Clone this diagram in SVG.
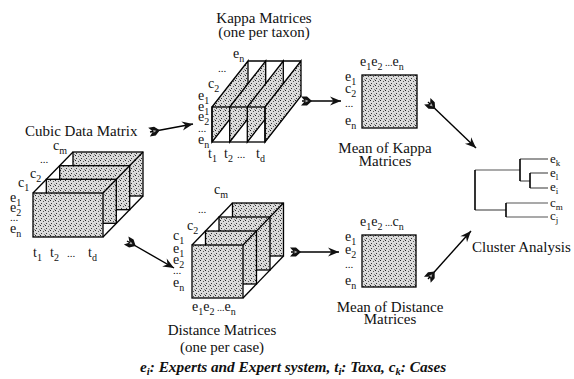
<svg xmlns="http://www.w3.org/2000/svg" width="574" height="379" viewBox="0 0 574 379">
<style>
.t{font-family:"Liberation Serif","Times New Roman",serif;font-size:15px;fill:#111}
.l{font-family:"Liberation Serif","Times New Roman",serif;font-size:14px;fill:#111}
.cl{font-family:"Liberation Serif","Times New Roman",serif;font-size:13px;fill:#111}
.s{font-size:10px}
.dt{font-size:11px}
.f{font-family:"Liberation Serif","Times New Roman",serif;font-size:15.3px;font-weight:bold;font-style:italic;fill:#111}
.face{fill:url(#st);stroke:#000;stroke-width:1.3;stroke-linejoin:miter}
.edge{stroke:#000;stroke-width:1.3;fill:none}
.ln{stroke:#000;stroke-width:1.4;fill:none}
.dv{stroke:#000;stroke-width:1.6}
.dh{stroke:#555;stroke-width:1.2}
</style>
<defs>
<pattern id="st" width="5" height="5" patternUnits="userSpaceOnUse">
<rect width="5" height="5" fill="#dadada"/>
<rect x="0" y="0" width="1" height="1" fill="#222"/>
<rect x="3" y="1" width="1" height="1" fill="#555"/>
<rect x="1" y="3" width="1" height="1" fill="#333"/>
<rect x="4" y="4" width="1" height="1" fill="#888"/>
</pattern>
<marker id="head" viewBox="-12 -6 14 12" markerWidth="14" markerHeight="12" refX="0" refY="0" orient="auto" markerUnits="userSpaceOnUse">
<path d="M0,0 L-11,-4.5 L-7.5,0 L-11,4.5 Z" fill="#111"/>
</marker>
<marker id="tail" viewBox="-2 -6 14 12" markerWidth="14" markerHeight="12" refX="0" refY="0" orient="auto" markerUnits="userSpaceOnUse">
<path d="M-1,-4.5 L5,-4.5 L10,0 L5,4.5 L-1,4.5 L3,0 Z" fill="#111"/>
<path d="M3.5,-1.5 L6.5,0 L3.5,1.5 Z" fill="#aaa"/>
</marker>
</defs>
<rect width="574" height="379" fill="#fff"/>

<g id="cubic-data-matrix">
<rect class="face" x="73" y="152" width="70" height="44"/>
<rect class="face" x="59.7" y="165.7" width="70" height="44"/>
<rect class="face" x="46.3" y="179.3" width="70" height="44"/>
<line class="edge" x1="33" y1="193" x2="73" y2="152"/>
<line class="edge" x1="103" y1="193" x2="143" y2="152"/>
<line class="edge" x1="103" y1="237" x2="143" y2="196"/>
<rect class="face" x="33" y="193" width="70" height="44"/>
<text class="t" x="25" y="136">Cubic Data Matrix</text>
<text class="l"><tspan x="53" y="150">c</tspan><tspan class="s" dy="4">m</tspan><tspan class="dt" x="40" y="163">...</tspan><tspan x="30" y="178">c</tspan><tspan class="s" dy="4">2</tspan><tspan x="18" y="187">c</tspan><tspan class="s" dy="4">1</tspan><tspan x="10" y="202">e</tspan><tspan class="s" dy="4">1</tspan><tspan x="10" y="212">e</tspan><tspan class="s" dy="4">2</tspan><tspan class="dt" x="10" y="221">...</tspan><tspan x="10" y="233">e</tspan><tspan class="s" dy="4">n</tspan></text>
<text class="l"><tspan x="33" y="257">t</tspan><tspan class="s" dy="4">1</tspan><tspan x="50" y="257">t</tspan><tspan class="s" dy="4">2</tspan><tspan class="dt" x="67" y="257">...</tspan><tspan x="88" y="257">t</tspan><tspan class="s" dy="4">d</tspan></text>
</g>

<g id="kappa-matrices">
<polygon class="face" points="212,107 248,61 248,96 212,142"/>
<polygon class="face" points="229.7,107 265.7,61 265.7,96 229.7,142"/>
<polygon class="face" points="247.3,107 283.3,61 283.3,96 247.3,142"/>
<polygon class="face" points="265,107 301,61 301,96 265,142"/>
<line class="edge" x1="248" y1="61" x2="301" y2="61"/>
<rect class="edge" x="212" y="107" width="53" height="35"/>
<text class="t" x="264" y="23" text-anchor="middle">Kappa Matrices</text>
<text class="t" x="264" y="37" text-anchor="middle">(one per taxon)</text>
<text class="l"><tspan x="233" y="58">e</tspan><tspan class="s" dy="4">n</tspan><tspan class="dt" x="218" y="72">...</tspan><tspan x="208" y="88">c</tspan><tspan class="s" dy="4">2</tspan><tspan x="198" y="100">e</tspan><tspan class="s" dy="4">1</tspan><tspan x="198" y="111">e</tspan><tspan class="s" dy="4">1</tspan><tspan x="198" y="121">e</tspan><tspan class="s" dy="4">2</tspan><tspan class="dt" x="198" y="132">...</tspan><tspan x="198" y="144">e</tspan><tspan class="s" dy="4">n</tspan></text>
<text class="l"><tspan x="208" y="158">t</tspan><tspan class="s" dy="4">1</tspan><tspan x="224" y="158">t</tspan><tspan class="s" dy="4">2</tspan><tspan class="dt" x="237" y="158">...</tspan><tspan x="256" y="158">t</tspan><tspan class="s" dy="4">d</tspan></text>
</g>

<g id="mean-kappa">
<rect class="face" x="362" y="75" width="55" height="53"/>
<text class="l" x="360" y="66">e<tspan class="s" dy="4">1</tspan><tspan dy="-4">e</tspan><tspan class="s" dy="4">2</tspan><tspan class="s" dy="-4"> ...</tspan>e<tspan class="s" dy="4">n</tspan></text>
<text class="l"><tspan x="345" y="81">e</tspan><tspan class="s" dy="4">1</tspan><tspan x="345" y="93">c</tspan><tspan class="s" dy="4">2</tspan><tspan class="dt" x="345" y="107">...</tspan><tspan x="345" y="125">e</tspan><tspan class="s" dy="4">n</tspan></text>
<text class="t" x="385" y="153" text-anchor="middle">Mean of Kappa</text>
<text class="t" x="385" y="166" text-anchor="middle">Matrices</text>
</g>

<g id="distance-matrices">
<rect class="face" x="232.5" y="203" width="51" height="53"/>
<rect class="face" x="219" y="217" width="51" height="53"/>
<rect class="face" x="205.5" y="231" width="51" height="53"/>
<line class="edge" x1="192" y1="245" x2="232.5" y2="203"/>
<line class="edge" x1="243" y1="245" x2="283.5" y2="203"/>
<line class="edge" x1="243" y1="298" x2="283.5" y2="256"/>
<rect class="face" x="192" y="245" width="51" height="53"/>
<text class="l"><tspan x="214" y="194">c</tspan><tspan class="s" dy="4">m</tspan><tspan class="dt" x="198" y="213">...</tspan><tspan x="187" y="230">c</tspan><tspan class="s" dy="4">2</tspan><tspan x="173" y="240">c</tspan><tspan class="s" dy="4">1</tspan><tspan x="173" y="253">e</tspan><tspan class="s" dy="4">1</tspan><tspan x="173" y="264">e</tspan><tspan class="s" dy="4">2</tspan><tspan class="dt" x="173" y="274">...</tspan><tspan x="173" y="287">e</tspan><tspan class="s" dy="4">n</tspan></text>
<text class="l" x="192" y="311">e<tspan class="s" dy="4">1</tspan><tspan dy="-4">e</tspan><tspan class="s" dy="4">2</tspan><tspan class="s" dy="-4"> ...</tspan>e<tspan class="s" dy="4">n</tspan></text>
<text class="t" x="222" y="335" text-anchor="middle">Distance Matrices</text>
<text class="t" x="222" y="352" text-anchor="middle">(one per case)</text>
</g>

<g id="mean-distance">
<rect class="face" x="362" y="235" width="54" height="52"/>
<text class="l" x="360" y="226">e<tspan class="s" dy="4">1</tspan><tspan dy="-4">e</tspan><tspan class="s" dy="4">2</tspan><tspan class="s" dy="-4"> ...</tspan>c<tspan class="s" dy="4">n</tspan></text>
<text class="l"><tspan x="345" y="241">e</tspan><tspan class="s" dy="4">1</tspan><tspan x="345" y="254">e</tspan><tspan class="s" dy="4">2</tspan><tspan class="dt" x="345" y="268">...</tspan><tspan x="345" y="285">e</tspan><tspan class="s" dy="4">n</tspan></text>
<text class="t" x="390" y="312" text-anchor="middle">Mean of Distance</text>
<text class="t" x="390" y="324" text-anchor="middle">Matrices</text>
</g>

<g id="cluster-analysis">
<line class="dh" x1="475" y1="170" x2="520" y2="170"/>
<line class="dh" x1="475" y1="210" x2="506" y2="210"/>
<line class="dh" x1="520" y1="159" x2="548" y2="159"/>
<line class="dh" x1="520" y1="181" x2="530" y2="181"/>
<line class="dh" x1="530" y1="173" x2="548" y2="173"/>
<line class="dh" x1="530" y1="188" x2="548" y2="188"/>
<line class="dh" x1="506" y1="203" x2="548" y2="203"/>
<line class="dh" x1="506" y1="217" x2="548" y2="217"/>
<line class="dv" x1="475" y1="170" x2="475" y2="210"/>
<line class="dv" x1="520" y1="159" x2="520" y2="181"/>
<line class="dv" x1="530" y1="173" x2="530" y2="188"/>
<line class="dv" x1="506" y1="203" x2="506" y2="217"/>
<text class="cl"><tspan x="550" y="163">e</tspan><tspan font-size="9" dy="3">k</tspan><tspan x="550" y="177">e</tspan><tspan font-size="9" dy="3">l</tspan><tspan x="550" y="191">e</tspan><tspan font-size="9" dy="3">i</tspan><tspan x="550" y="207">c</tspan><tspan font-size="9" dy="3">m</tspan><tspan x="550" y="220">c</tspan><tspan font-size="9" dy="3">j</tspan></text>
<text class="t" x="472" y="252">Cluster Analysis</text>
</g>

<g id="connectors">
<line class="ln" x1="150" y1="132" x2="193" y2="124" marker-start="url(#tail)" marker-end="url(#head)"/>
<line class="ln" x1="302" y1="101" x2="341" y2="101" marker-start="url(#tail)" marker-end="url(#head)"/>
<line class="ln" x1="127" y1="241" x2="174" y2="268" marker-start="url(#tail)" marker-end="url(#head)"/>
<line class="ln" x1="291" y1="252" x2="339" y2="252" marker-start="url(#tail)" marker-end="url(#head)"/>
<line class="ln" x1="428" y1="102" x2="476" y2="148" marker-start="url(#tail)" marker-end="url(#head)"/>
<line class="ln" x1="428" y1="279" x2="471" y2="231" marker-start="url(#tail)" marker-end="url(#head)"/>
</g>

<g id="legend">
<text class="f" x="140" y="372">e<tspan font-size="10.5" dy="3">i</tspan><tspan dy="-3">: Experts and Expert system, t</tspan><tspan font-size="10.5" dy="3">i</tspan><tspan dy="-3">: Taxa, c</tspan><tspan font-size="10.5" dy="3">k</tspan><tspan dy="-3">: Cases</tspan></text>
</g>
</svg>
